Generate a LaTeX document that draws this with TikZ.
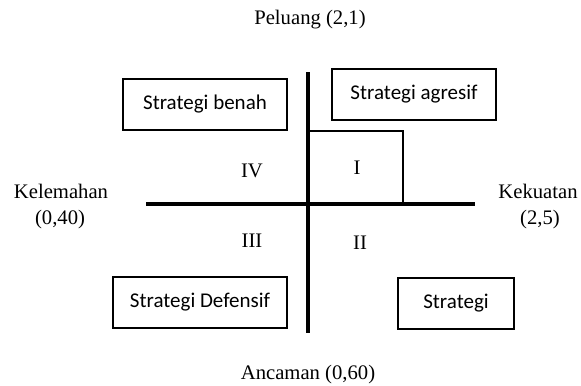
\documentclass[tikz,border=0pt]{standalone}
\usepackage{fontspec}
\setmainfont{Liberation Serif}
\newfontfamily\boxfont{Carlito}
\begin{document}
\begin{tikzpicture}[x=0.6pt,y=-0.6pt,
  lbl/.style={inner sep=0pt,font=\fontsize{12.4}{14}\selectfont},
  sbox/.style={draw,line width=0.8pt,minimum height=30.6pt,inner sep=0pt,font=\boxfont\fontsize{12.6}{14}\selectfont},
  axis/.style={line width=2.4pt},
  thin/.style={line width=0.8pt}]
\useasboundingbox (0,0) rectangle (581,385);
% axes
\coordinate (top) at (308,72);
\coordinate (bot) at (308,333);
\coordinate (lft) at (146,204);
\coordinate (rgt) at (475,204);
\draw[axis] (top) -- (bot);
\draw[axis] (lft) -- (rgt);
% quadrant I box
\coordinate (ia) at (308,131);
\coordinate (ib) at (403,131);
\coordinate (ic) at (403,204);
\draw[thin] (ia) -- (ib) -- (ic);
% strategy boxes
\node[sbox,minimum width=98.4pt] (benah) at (205,104.5) {Strategi benah};
\node[sbox,minimum width=98.4pt] (agresif) at (414,94.5) {Strategi agresif};
\node[sbox,minimum width=104.4pt] (defensif) at (200,302.5) {Strategi Defensif};
\node[sbox,minimum width=69.6pt] (strat) at (456,303.5) {Strategi};
% quadrant labels
\node[lbl] (q4) at (252,171) {IV};
\node[lbl] (q1) at (357,168) {I};
\node[lbl] (q3) at (252,241) {III};
\node[lbl] (q2) at (360,243) {II};
% axis labels
\node[lbl] (pel) at (310,20) {Peluang (2,1)};
\node[lbl] (anc) at (308,375) {Ancaman (0,60)};
\node[lbl] (kel) at (61,191) {Kelemahan};
\node[lbl] (kelv) at (60,220) {(0,40)};
\node[lbl] (kek) at (538,191) {Kekuatan};
\node[lbl] (kekv) at (540,220) {(2,5)};
\end{tikzpicture}
\end{document}
